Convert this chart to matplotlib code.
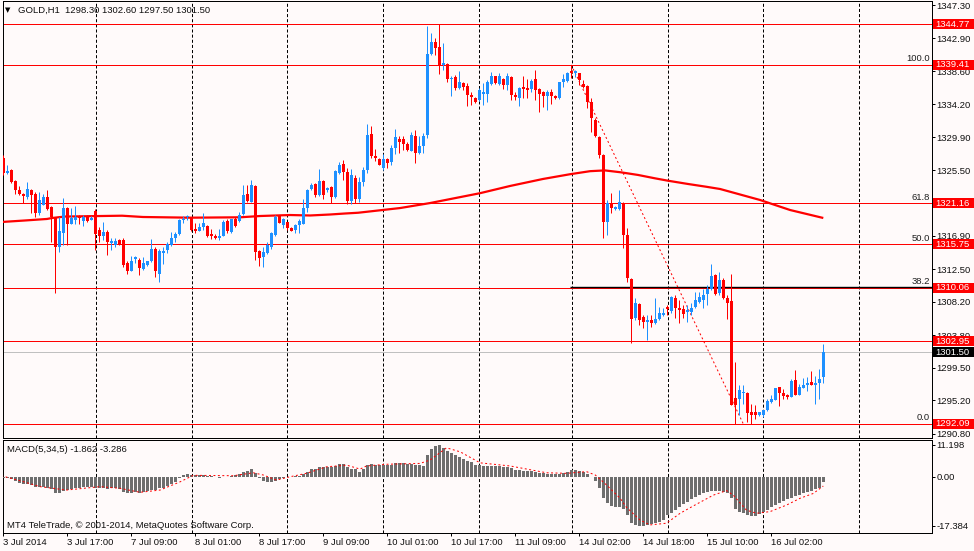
import numpy as np
import matplotlib
matplotlib.use("Agg")
import matplotlib.pyplot as plt
from matplotlib.patches import Rectangle
from matplotlib.transforms import blended_transform_factory

plt.rcParams["font.family"] = ["Liberation Sans", "DejaVu Sans"]
plt.rcParams["font.size"] = 6.8
plt.rcParams["lines.scale_dashes"] = False

# ── data (GOLD H1, bar index 0 = 3 Jul 2014) ─────────────────
opens = [
    1327.1, 1325.1, 1325.5, 1324.1, 1322.9, 1322.4, 1322.0, 1322.9, 1322.4, 1319.9,
    1321.0, 1321.95, 1320.7, 1319.3, 1315.4, 1317.3, 1320.5, 1318.5, 1319.0, 1319.5,
    1318.8, 1319.4, 1319.0, 1320.15, 1317.7, 1316.85, 1317.4, 1315.9, 1315.7, 1316.3,
    1316.3, 1313.35, 1312.3, 1313.85, 1313.7, 1312.5, 1313.0, 1313.6, 1315.15, 1311.9,
    1314.65, 1315.0, 1315.7, 1316.55, 1317.1, 1318.9, 1319.3, 1319.3, 1317.8, 1317.5,
    1318.0, 1318.2, 1317.1, 1316.85, 1316.6, 1316.9, 1318.85, 1317.4, 1319.05, 1318.85,
    1319.75, 1322.4, 1321.4, 1323.45, 1314.9, 1314.1, 1314.6, 1315.4, 1317.0, 1319.5,
    1318.35, 1318.65, 1317.95, 1317.6, 1318.3, 1318.5, 1320.5, 1323.0, 1323.7, 1322.25,
    1324.1, 1322.9, 1323.3, 1322.0, 1325.1, 1326.35, 1325.3, 1321.5, 1324.45, 1321.7,
    1324.0, 1325.5, 1330.3, 1327.4, 1327.0, 1325.8, 1327.0, 1326.6, 1328.45, 1329.7,
    1329.7, 1329.0, 1328.1, 1330.1, 1327.8, 1328.7, 1330.2, 1340.8, 1342.4, 1341.75,
    1339.45, 1339.5, 1337.5, 1337.8, 1336.35, 1337.0, 1336.6, 1335.5, 1335.1, 1334.8,
    1335.6, 1335.6, 1336.85, 1337.9, 1336.9, 1337.55, 1336.7, 1337.85, 1335.45, 1335.1,
    1336.5, 1336.4, 1336.2, 1337.5, 1336.2, 1335.8, 1335.3, 1335.9, 1335.35, 1335.0,
    1337.2, 1337.3, 1338.65, 1338.4, 1338.3, 1336.9, 1336.6, 1334.55, 1332.14, 1329.94,
    1327.53, 1318.74, 1321.16, 1320.41, 1320.4, 1321.16, 1316.98, 1311.19, 1306.0, 1307.9,
    1306.14, 1305.48, 1305.78, 1305.35, 1305.91, 1306.44, 1307.53, 1307.0, 1308.64, 1307.3,
    1307.23, 1306.85, 1306.88, 1307.53, 1308.19, 1308.42, 1309.17, 1309.91, 1311.75, 1309.38,
    1311.01, 1308.72, 1308.24, 1295.5, 1295.41, 1296.1, 1296.2, 1293.65, 1293.6, 1293.3,
    1293.22, 1293.96, 1294.97, 1295.28, 1296.95, 1296.16, 1295.86, 1295.63, 1297.91, 1295.86,
    1296.82, 1297.25, 1297.61, 1297.25, 1297.52, 1298.3,
]
highs = [
    1327.5, 1326.2, 1325.7, 1324.2, 1323.4, 1322.5, 1324.0, 1323.1, 1322.7, 1322.7,
    1322.35, 1322.9, 1320.8, 1319.4, 1319.3, 1321.8, 1320.7, 1320.5, 1320.8, 1319.6,
    1319.6, 1319.6, 1319.5, 1320.4, 1318.0, 1318.7, 1317.6, 1316.55, 1316.55, 1316.45,
    1316.55, 1313.55, 1314.2, 1314.2, 1313.9, 1314.05, 1313.6, 1316.45, 1315.45, 1315.2,
    1315.45, 1316.1, 1317.4, 1317.4, 1319.1, 1319.55, 1319.6, 1319.4, 1318.6, 1318.6,
    1319.9, 1318.3, 1317.8, 1317.1, 1317.8, 1318.95, 1319.05, 1319.15, 1319.4, 1320.05,
    1323.6, 1323.6, 1324.3, 1323.6, 1315.0, 1315.45, 1316.0, 1317.4, 1319.6, 1319.6,
    1319.2, 1318.75, 1318.0, 1318.5, 1319.05, 1321.7, 1323.0, 1323.9, 1323.9, 1325.7,
    1324.3, 1323.3, 1323.4, 1325.55, 1326.65, 1326.9, 1325.8, 1325.65, 1324.9, 1324.6,
    1325.9, 1331.6, 1331.4, 1328.3, 1327.1, 1327.6, 1327.2, 1328.9, 1330.95, 1330.0,
    1330.0, 1329.3, 1330.5, 1330.85, 1330.0, 1330.4, 1344.6, 1343.6, 1342.95, 1344.77,
    1342.3, 1339.6, 1337.9, 1338.1, 1338.65, 1337.1, 1337.0, 1335.85, 1335.2, 1336.3,
    1337.0, 1337.4, 1338.5, 1338.0, 1338.3, 1337.7, 1338.3, 1338.0, 1335.9, 1336.5,
    1337.9, 1337.5, 1337.6, 1338.7, 1336.3, 1336.0, 1336.1, 1336.2, 1335.5, 1337.2,
    1338.2, 1338.45, 1339.41, 1338.8, 1338.4, 1337.4, 1336.75, 1335.0, 1332.4, 1330.1,
    1327.6, 1321.6, 1322.48, 1320.85, 1322.9, 1321.4, 1317.87, 1311.3, 1308.64, 1308.0,
    1306.44, 1306.44, 1306.44, 1308.64, 1307.53, 1307.32, 1307.76, 1308.98, 1309.08, 1308.4,
    1307.76, 1307.76, 1307.98, 1309.5, 1309.5, 1309.87, 1310.36, 1313.2, 1311.88, 1312.11,
    1311.32, 1309.04, 1311.88, 1300.25, 1297.18, 1297.18, 1296.3, 1294.75, 1294.54, 1293.7,
    1293.96, 1295.41, 1295.94, 1296.82, 1296.95, 1296.73, 1296.07, 1297.96, 1299.15, 1297.38,
    1298.14, 1298.27, 1299.02, 1298.4, 1299.37, 1302.6,
]
lows = [
    1324.9, 1325.0, 1323.9, 1322.35, 1322.2, 1321.2, 1321.7, 1319.85, 1319.3, 1319.6,
    1320.9, 1320.3, 1316.1, 1309.4, 1314.8, 1315.7, 1315.7, 1318.4, 1318.4, 1318.5,
    1318.2, 1318.7, 1318.9, 1315.0, 1316.0, 1316.3, 1314.35, 1315.0, 1315.4, 1315.7,
    1312.8, 1311.85, 1312.25, 1313.25, 1311.7, 1312.4, 1312.9, 1313.45, 1311.5, 1310.85,
    1313.15, 1314.6, 1315.55, 1316.1, 1317.0, 1318.6, 1319.0, 1317.55, 1317.3, 1317.45,
    1317.6, 1316.75, 1316.45, 1316.4, 1316.3, 1316.8, 1317.2, 1317.3, 1318.1, 1318.75,
    1319.6, 1321.4, 1321.3, 1313.7, 1312.9, 1312.8, 1314.5, 1315.2, 1316.9, 1318.6,
    1317.9, 1317.6, 1317.5, 1317.3, 1317.3, 1318.5, 1320.05, 1322.9, 1321.95, 1322.1,
    1321.7, 1322.7, 1321.25, 1321.9, 1325.0, 1324.2, 1321.05, 1321.05, 1321.15, 1321.3,
    1323.5, 1325.2, 1327.2, 1326.8, 1326.2, 1325.6, 1325.8, 1326.25, 1327.6, 1327.8,
    1328.25, 1328.0, 1328.0, 1326.5, 1327.6, 1327.8, 1329.8, 1340.75, 1340.75, 1338.2,
    1338.8, 1337.15, 1335.35, 1336.1, 1336.2, 1336.1, 1334.0, 1334.1, 1334.4, 1334.6,
    1334.1, 1334.55, 1336.7, 1336.9, 1336.8, 1336.2, 1336.1, 1334.8, 1334.8, 1334.0,
    1335.0, 1335.0, 1335.9, 1334.8, 1333.25, 1333.9, 1333.4, 1334.2, 1334.9, 1334.9,
    1336.5, 1337.2, 1337.7, 1337.85, 1336.75, 1336.3, 1333.7, 1330.6, 1329.9, 1327.09,
    1316.55, 1316.98, 1319.85, 1320.3, 1320.3, 1315.23, 1310.83, 1302.71, 1305.78, 1305.12,
    1304.77, 1303.15, 1304.9, 1305.21, 1305.8, 1306.35, 1306.44, 1306.66, 1306.0, 1305.35,
    1306.0, 1305.48, 1306.44, 1307.32, 1307.98, 1307.32, 1307.72, 1309.8, 1309.1, 1309.1,
    1308.5, 1305.95, 1294.54, 1292.09, 1293.22, 1294.75, 1292.34, 1292.11, 1292.77, 1293.1,
    1293.0, 1293.79, 1294.88, 1295.2, 1294.41, 1295.41, 1295.33, 1295.63, 1295.86, 1295.86,
    1296.82, 1296.38, 1297.18, 1294.75, 1295.41, 1297.5,
]
closes = [
    1325.1, 1325.4, 1324.0, 1322.9, 1322.4, 1322.1, 1323.0, 1322.3, 1319.85, 1321.6,
    1322.0, 1320.4, 1319.3, 1315.4, 1317.5, 1320.6, 1318.5, 1319.2, 1319.3, 1319.2,
    1319.3, 1318.8, 1319.2, 1317.1, 1316.9, 1317.4, 1316.1, 1316.2, 1316.2, 1315.75,
    1313.0, 1312.3, 1313.6, 1314.1, 1312.7, 1313.25, 1313.55, 1315.2, 1312.3, 1314.9,
    1314.9, 1315.8, 1316.6, 1317.1, 1318.9, 1319.1, 1319.5, 1317.6, 1317.45, 1318.0,
    1318.6, 1316.85, 1316.85, 1316.55, 1316.85, 1318.75, 1317.55, 1319.05, 1318.15, 1319.65,
    1322.26, 1321.5, 1323.6, 1314.8, 1314.0, 1314.8, 1315.65, 1317.2, 1319.4, 1318.6,
    1319.05, 1317.85, 1317.55, 1318.3, 1318.8, 1320.6, 1322.9, 1323.6, 1322.25, 1324.1,
    1322.25, 1323.2, 1321.95, 1325.4, 1326.2, 1325.3, 1321.5, 1324.9, 1321.7, 1324.0,
    1325.5, 1330.2, 1327.35, 1327.15, 1326.25, 1327.0, 1326.5, 1328.45, 1329.9, 1329.3,
    1329.0, 1328.25, 1330.2, 1327.8, 1328.75, 1330.0, 1340.8, 1342.4, 1341.7, 1339.45,
    1339.65, 1337.6, 1337.7, 1336.3, 1337.15, 1336.5, 1335.4, 1335.2, 1334.55, 1336.1,
    1335.9, 1337.1, 1337.9, 1337.0, 1337.9, 1336.75, 1337.9, 1335.45, 1335.15, 1336.4,
    1336.2, 1336.1, 1337.3, 1336.1, 1335.6, 1335.3, 1335.9, 1335.3, 1335.0, 1337.1,
    1337.5, 1338.4, 1338.4, 1338.65, 1337.4, 1336.55, 1334.5, 1332.37, 1330.07, 1327.53,
    1318.74, 1321.16, 1320.5, 1320.72, 1321.37, 1316.98, 1311.28, 1305.91, 1307.98, 1305.78,
    1305.48, 1305.78, 1305.35, 1305.91, 1306.66, 1306.74, 1307.19, 1308.77, 1307.4, 1307.1,
    1306.57, 1307.05, 1307.4, 1308.42, 1308.77, 1309.08, 1309.91, 1311.58, 1309.25, 1311.01,
    1308.72, 1308.06, 1294.62, 1294.62, 1296.52, 1296.33, 1293.56, 1293.3, 1293.3, 1293.65,
    1293.96, 1295.1, 1295.41, 1296.82, 1296.16, 1295.76, 1295.63, 1297.74, 1295.86, 1296.95,
    1297.25, 1297.48, 1297.25, 1297.52, 1298.05, 1301.5,
]

# moving average line (read at some bars)
ma_bars = [-0.5, 5.4, 10.9, 12.2, 15.4, 29.7, 34.9, 46.7, 59.2, 64.2, 71.7, 76.7,
           81.7, 85.4, 88.7, 99.2, 106.7, 119.2, 126.7, 134.9, 141.7, 146.7, 150.4,
           154.4, 158.7, 162.9, 166.2, 171.2, 175.7, 179.2, 189.2, 196.7, 205]
ma_vals = [1318.70, 1318.90, 1319.10, 1319.23, 1319.42, 1319.53, 1319.36, 1319.27,
           1319.32, 1319.49, 1319.62, 1319.56, 1319.69, 1319.82, 1319.92, 1320.54,
           1321.20, 1322.50, 1323.45, 1324.37, 1325.00, 1325.40, 1325.50, 1325.25,
           1324.90, 1324.46, 1324.14, 1323.71, 1323.35, 1323.05, 1321.60, 1320.28,
           1319.23]

# MACD(5,34,5) histogram, one per bar
macd_main = [
    -0.3, -0.6, -0.9, -1.4, -2.1, -2.6, -2.6, -2.9, -3.5, -3.5,
    -3.5, -4.1, -4.5, -5.6, -5.6, -4.9, -4.7, -4.5, -4.1, -3.8,
    -3.5, -3.5, -3.5, -3.8, -3.9, -4.1, -4.2, -4.1, -4.1, -4.5,
    -5.3, -5.6, -5.6, -5.5, -5.6, -5.4, -5.1, -4.7, -4.7, -4.1,
    -3.8, -3.3, -2.6, -1.8, -0.6, 0.6, 0.9, 0.6, 0.6, 0.5,
    0.5, 0.4, 0.2, 0.05, -0.35, 0.05, 0.05, 0.35, 0.6, 0.9,
    1.8, 2.1, 2.9, 1.4, -0.35, -1.5, -1.9, -1.8, -1.4, -0.9,
    -0.35, 0.05, 0.05, 0.1, 0.2, 0.9, 1.8, 2.9, 2.9, 3.3,
    3.3, 3.3, 3.3, 3.8, 4.5, 4.5, 3.3, 2.9, 2.6, 1.8,
    2.6, 4.1, 4.5, 4.3, 4.1, 4.1, 4.1, 4.3, 4.7, 4.7,
    4.7, 4.5, 4.5, 4.1, 4.1, 3.9, 7.6, 9.8, 10.8, 11.198,
    10.0, 9.2, 8.5, 7.6, 6.8, 6.2, 5.5, 5.1, 4.3, 4.1,
    3.8, 3.8, 3.9, 3.9, 3.8, 3.6, 3.4, 3.0, 2.4, 2.2,
    2.0, 1.9, 1.9, 1.6, 1.4, 1.2, 1.0, 0.9, 0.9, 1.1,
    1.4, 1.8, 2.2, 2.3, 2.0, 1.5, 0.8, -0.2, -1.5, -4.0,
    -7.6, -9.2, -10.4, -10.6, -10.6, -11.5, -13.5, -16.4, -17.0, -17.3,
    -17.384, -17.2, -16.8, -16.4, -15.9, -15.3, -13.5, -12.7, -11.8, -10.6,
    -9.6, -8.8, -7.9, -7.1, -6.5, -5.9, -5.5, -5.1, -4.9, -4.9,
    -5.3, -5.9, -7.6, -11.5, -12.3, -12.9, -13.5, -13.9, -13.7, -13.2,
    -12.6, -11.8, -10.8, -10.0, -9.2, -8.6, -8.0, -7.4, -6.8, -6.5,
    -5.9, -5.3, -4.9, -4.5, -3.8, -1.862,
]
sig_bars = [-0.5, 4.2, 9.2, 15.8, 24.2, 29.2, 34.2, 39.2, 44.2, 47.5, 57.5, 62.5,
            65, 68.3, 71.7, 75.8, 80.8, 85.8, 89.2, 90.8, 95.8, 104.2, 106.7, 110.8,
            114.2, 119.2, 126.7, 135.8, 140.8, 145.8, 148, 150.8, 154.2, 155.8,
            159.2, 161.7, 165.8, 169.2, 172.5, 177.5, 180.8, 182.5, 185.8, 188.3,
            191.7, 195.8, 199.2, 202.5, 205]
sig_vals = [0.35, -1.4, -3.5, -4.7, -3.5, -4.1, -5.5, -4.7, -1.8, 0.5, 0.35, 1.4,
            0.6, -1.2, 0.0, 1.2, 3.5, 4.1, 2.7, 3.8, 4.4, 4.7, 5.9, 10.2,
            8.8, 4.9, 3.8, 1.4, 1.2, 1.8, 0.6, -2.9, -7.6, -10.8,
            -15.3, -17.0, -16.4, -12.9, -10.3, -6.5, -4.9, -6.5, -11.8, -12.9,
            -12.3, -10.0, -7.6, -5.9, -3.286]

price_ticks = [1347.30, 1342.90, 1338.60, 1334.20, 1329.90, 1325.50, 1321.20,
               1316.90, 1312.50, 1308.20, 1303.80, 1299.50, 1295.20, 1290.80]
macd_ticks = [11.198, 0.0, -17.384]
macd_tick_labels = ["11.198", "0.00", "-17.384"]

date_bars = [0, 16, 32, 48, 64, 80, 96, 112, 128, 144, 160, 176, 192]
date_labels = ["3 Jul 2014", "3 Jul 17:00", "7 Jul 09:00", "8 Jul 01:00",
               "8 Jul 17:00", "9 Jul 09:00", "10 Jul 01:00", "10 Jul 17:00",
               "11 Jul 09:00", "14 Jul 02:00", "14 Jul 18:00", "15 Jul 10:00",
               "16 Jul 02:00"]
grid_bars = [23.1, 47.1, 71, 95, 118.9, 142.1, 166.1, 190, 214]

red_levels = [1344.77, 1339.41, 1321.16, 1315.75, 1310.06, 1302.95, 1292.09]
bid_price = 1301.50
fib_names = ["100.0", "61.8", "50.0", "38.2", "0.0"]
fib_prices = [1339.41, 1321.16, 1315.75, 1310.06, 1292.09]
fib_from = (142, 1339.41)
fib_to = (185, 1292.09)
black_level = 1310.06
black_from = 141.7

header = "GOLD,H1  1298.30 1302.60 1297.50 1301.50"
macd_title = "MACD(5,34,5) -1.862 -3.286"
footer = "MT4 TeleTrade, \u00a9 2001-2014, MetaQuotes Software Corp."

# ── layout ─────────────────────────────────────────────────
W, H = 974, 551
BG = "#FFFAFA"
UP = "#1E90FF"
DN = "#FF0000"
TXT = "#101010"
PX = 0.72  # one pixel in points


def rect(l, t, r, b):
    return [l / W, 1 - b / H, (r - l) / W, (b - t) / H]


fig = plt.figure(figsize=(W / 100, H / 100), dpi=100, facecolor=BG)
ax = fig.add_axes(rect(2.5, 1, 931.5, 437.7), facecolor=BG)
ax2 = fig.add_axes(rect(2.5, 440, 931.5, 533.3), facecolor=BG, sharex=ax)

o = np.array(opens)
h = np.array(highs)
l = np.array(lows)
c = np.array(closes)
x = np.arange(len(o))
cols = np.where(c >= o, UP, DN)

# grid
for gx in grid_bars:
    for a in (ax, ax2):
        a.axvline(gx, color="black", lw=PX, ls=(0, (2.2, 1.5)), zorder=1)

# levels
for p in red_levels:
    ax.axhline(p, color="#FF0000", lw=PX, zorder=2)
ax.axhline(bid_price, color="#C0C0C0", lw=PX, zorder=2)
ax.hlines(black_level + 0.13, black_from, 240, color="black", lw=1.0, zorder=2)
ax.plot([fib_from[0], fib_to[0]], [fib_from[1], fib_to[1]], color="#FF0000",
        lw=PX, ls=(0, (1.4, 1.8)), zorder=2)
fib_tr = blended_transform_factory(ax.transAxes, ax.transData)
for name, p in zip(fib_names, fib_prices):
    ax.text(0.9984, p + 0.2, name, transform=fib_tr,
            ha="right", va="bottom", color="#202020")

# moving average
ax.plot(ma_bars, ma_vals, color="#FF0000", lw=1.6, zorder=3, solid_capstyle="butt")

# candles
ax.vlines(x, l, h, colors=cols, lw=PX, zorder=4)
body_lo = np.minimum(o, c)
body_h = np.maximum(np.abs(c - o), 0.13)
ax.bar(x, body_h, bottom=body_lo, width=0.72, color=cols, linewidth=0, zorder=4)

# MACD
ax2.bar(x, macd_main, width=0.72, color="#6E6E6E", linewidth=0, zorder=3)
ax2.plot(sig_bars, sig_vals, color="#FF0000", lw=PX, ls=(0, (1.4, 1.8)), zorder=4)

# axes limits / ticks
ax.set_xlim(-0.2, 232.05)
ax.set_ylim(1290.27, 1347.83)
ax2.set_ylim(-19.96, 12.96)

ax.yaxis.tick_right()
ax.set_yticks(price_ticks)
ax.set_yticklabels([f"{v:.2f}" for v in price_ticks])
ax.tick_params(axis="y", direction="out", length=2.2, width=PX, pad=1.6,
               labelcolor=TXT)
ax.tick_params(axis="x", bottom=False, labelbottom=False)

ax2.yaxis.tick_right()
ax2.set_yticks(macd_ticks)
ax2.set_yticklabels(macd_tick_labels)
ax2.tick_params(axis="y", direction="out", length=2.2, width=PX, pad=1.6,
                labelcolor=TXT)
ax2.set_xticks(date_bars)
ax2.set_xticklabels(date_labels, ha="left")
ax2.tick_params(axis="x", direction="out", length=2.2, width=PX, pad=1.0,
                labelcolor=TXT)

for a in (ax, ax2):
    for s in a.spines.values():
        s.set_linewidth(PX)
        s.set_color("black")

# price boxes on the right scale
tr = blended_transform_factory(fig.transFigure, ax.transData)
half = 5.0 / 7.587
for p, fc in [(v, "#FF0000") for v in red_levels] + [(bid_price, "black")]:
    fig.add_artist(Rectangle((932.5 / W, p - half), (974 - 932.5) / W, 2 * half,
                             transform=tr, facecolor=fc, edgecolor="none", zorder=6))
    fig.text(935.5 / W, p, f"{p:.2f}", transform=tr, color="white",
             ha="left", va="center", zorder=7)

# texts
fig.text(5 / W, 1 - 10.5 / H, "\u25bc", fontsize=5, ha="left", va="center",
         family=["DejaVu Sans"])
fig.text(18 / W, 1 - 10.5 / H, header, ha="left", va="center", color=TXT)
fig.text(7 / W, 1 - 450 / H, macd_title, ha="left", va="center", color=TXT)
fig.text(7 / W, 1 - 525.5 / H, footer, ha="left", va="center", color=TXT)

fig.savefig("out.png", dpi=100, facecolor=BG)
